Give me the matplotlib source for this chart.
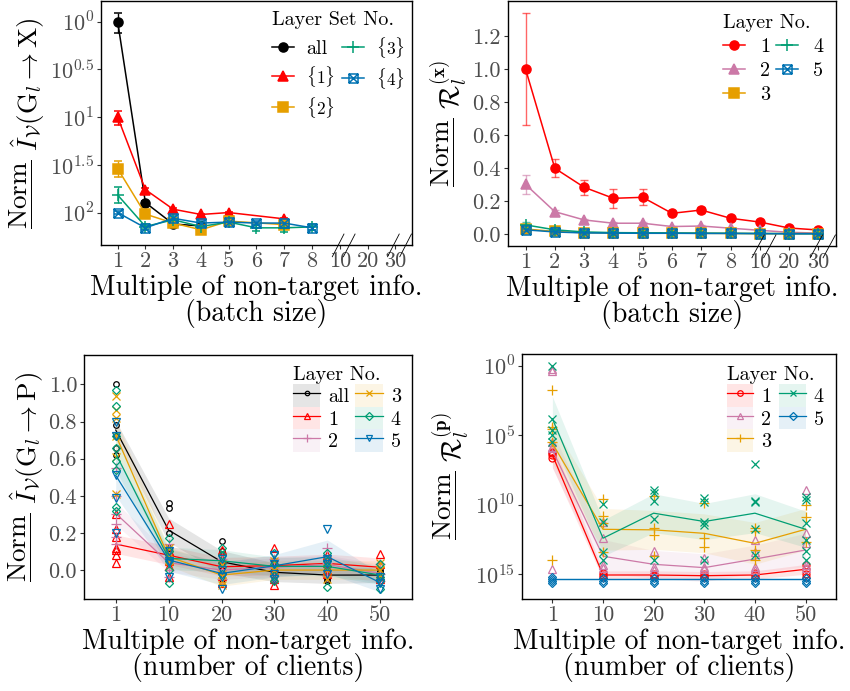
import numpy as np
import matplotlib
matplotlib.use('Agg')
import matplotlib.pyplot as plt
import matplotlib.transforms as mtransforms
from matplotlib.path import Path
from matplotlib.lines import Line2D
from matplotlib.patches import Patch

plt.rcParams['font.family'] = 'serif'
plt.rcParams['font.serif'] = ['cmr10']
plt.rcParams['mathtext.fontset'] = 'cm'
plt.rcParams['axes.formatter.use_mathtext'] = True

BLACK, RED, PINK, ORANGE, GREEN, BLUE = '#000000', '#FF0000', '#CC79A7', '#E69F00', '#009E73', '#0072B2'

# ggplot shape 7: square with a cross inside
BOX_X = Path([(-1, -1), (1, -1), (1, 1), (-1, 1), (-1, -1), (-1, -1), (1, 1), (-1, 1), (1, -1)],
             [Path.MOVETO, Path.LINETO, Path.LINETO, Path.LINETO, Path.CLOSEPOLY,
              Path.MOVETO, Path.LINETO, Path.MOVETO, Path.LINETO])

# ---------------- data ----------------
batch_labels = ['1', '2', '3', '4', '5', '6', '7', '8', '10', '20', '30']
client_labels = ['1', '10', '20', '30', '40', '50']

# top left: log10 of normalised I_V(G_l -> X)
tl_labels = ['all', r'$\{1\}$', r'$\{2\}$', r'$\{3\}$', r'$\{4\}$']
tl_x = [[1, 2, 3, 4],
        [1, 2, 3, 4, 5, 7],
        [1, 2, 3, 4, 5, 7],
        [1, 2, 3, 4, 5, 6, 7, 8],
        [1, 2, 3, 4, 5, 6, 7, 8]]
tl_log = [[0.0, -1.896, -2.12, -2.14],
          [-1.0, -1.76, -1.965, -2.02, -2.0, -2.066],
          [-1.54, -2.016, -2.11, -2.18, -2.09, -2.126],
          [-1.816, -2.146, -2.076, -2.146, -2.10, -2.16, -2.16, -2.15],
          [-2.0, -2.16, -2.06, -2.11, -2.10, -2.11, -2.11, -2.16]]
tl_err_lo = [[0.121, 0.02, 0.01, 0.01],
             [0.086, 0.02, 0.015, 0.01, 0.01, 0.01],
             [0.09, 0.02, 0.01, 0.01, 0.01, 0.01],
             [0.084, 0.03, 0.02, 0.03, 0.02, 0.03, 0.04, 0.03],
             [0.02, 0.02, 0.02, 0.02, 0.02, 0.02, 0.02, 0.02]]
tl_err_hi = [[0.094, 0.02, 0.01, 0.01],
             [0.06, 0.02, 0.015, 0.01, 0.01, 0.01],
             [0.08, 0.02, 0.01, 0.01, 0.01, 0.01],
             [0.086, 0.03, 0.02, 0.03, 0.02, 0.03, 0.04, 0.03],
             [0.02, 0.02, 0.02, 0.02, 0.02, 0.02, 0.02, 0.02]]

# top right: normalised R_l^(x)
tr_labels = ['1', '2', '3', '4', '5']
tr_y = [[1.0, 0.398, 0.283, 0.216, 0.222, 0.125, 0.145, 0.095, 0.072, 0.036, 0.024],
        [0.30, 0.135, 0.085, 0.065, 0.065, 0.045, 0.048, 0.035, 0.022, 0.010, 0.005],
        [0.030, 0.015, 0.008, 0.007, 0.006, 0.005, 0.004, 0.003, 0.002, 0.002, 0.002],
        [0.055, 0.025, 0.012, 0.008, 0.007, 0.006, 0.005, 0.004, 0.003, 0.002, 0.002],
        [0.025, 0.012, 0.006, 0.005, 0.004, 0.004, 0.003, 0.003, 0.002, 0.001, 0.001]]
tr_err = [[0.34, 0.055, 0.045, 0.058, 0.048, 0.01, 0.02, 0.01, 0.01, 0.005, 0.005],
          [0.058, 0.01, 0.008, 0.006, 0.006, 0.004, 0.004, 0.003, 0.002, 0.001, 0.001],
          [0.01, 0.004, 0.003, 0.003, 0.003, 0.002, 0.002, 0.002, 0.001, 0.001, 0.001],
          [0.02, 0.015, 0.01, 0.012, 0.012, 0.01, 0.008, 0.006, 0.005, 0.004, 0.003],
          [0.008, 0.004, 0.003, 0.003, 0.003, 0.002, 0.002, 0.002, 0.001, 0.001, 0.001]]

# bottom left: normalised I_V(G_l -> P), mean line, ribbon half width, raw points
bl_labels = ['all', '1', '2', '3', '4', '5']
bl_mean = [[0.754, 0.215, 0.045, -0.012, -0.027, -0.027],
           [0.14, 0.08, 0.018, 0.024, 0.036, 0.015],
           [0.305, 0.04, 0.0, 0.015, 0.03, -0.018],
           [0.727, 0.072, -0.027, 0.0, 0.0, 0.0],
           [0.628, 0.063, 0.05, 0.02, 0.02, -0.027],
           [0.51, 0.054, -0.018, 0.023, 0.072, -0.068]]
bl_band = [[0.05, 0.065, 0.06, 0.05, 0.045, 0.04],
           [0.05, 0.05, 0.05, 0.05, 0.05, 0.05],
           [0.06, 0.05, 0.05, 0.05, 0.05, 0.05],
           [0.09, 0.05, 0.06, 0.05, 0.05, 0.05],
           [0.09, 0.06, 0.06, 0.05, 0.05, 0.05],
           [0.11, 0.06, 0.06, 0.06, 0.09, 0.05]]
bl_pts = [[[1.0, 0.78, 0.72, 0.62, 0.66], [0.36, 0.335, 0.2, 0.12, 0.06], [0.155, 0.1, 0.04, 0.0, -0.05],
           [0.05, 0.0, -0.03, -0.06], [0.05, 0.0, -0.05, -0.06], [0.0, -0.01, -0.04, -0.06]],
          [[0.30, 0.22, 0.18, 0.12, 0.11, 0.08, 0.04], [0.25, 0.1, 0.05, 0.02, -0.04], [0.11, 0.06, 0.0, -0.03, -0.07],
           [0.12, 0.05, 0.0, -0.05, -0.08], [0.08, 0.04, 0.0, -0.02], [0.085, 0.03, -0.03, -0.05]],
          [[0.55, 0.40, 0.30, 0.25, 0.18, 0.14], [0.14, 0.06, 0.0, -0.04], [0.06, 0.0, -0.05],
           [0.06, 0.01, -0.03], [0.12, 0.04, -0.03], [0.03, -0.02, -0.06]],
          [[0.94, 0.86, 0.82, 0.72, 0.61, 0.41], [0.12, 0.09, 0.05, 0.02], [0.03, -0.02, -0.06, -0.08],
           [0.05, 0.0, -0.04], [0.05, 0.0, -0.05], [0.04, 0.0, -0.04]],
          [[0.97, 0.885, 0.72, 0.66, 0.59, 0.54, 0.34, 0.32], [0.17, 0.1, 0.05, 0.0, -0.07], [0.12, 0.08, 0.04, -0.02],
           [0.09, 0.03, -0.03, -0.06], [0.09, 0.05, 0.02, -0.09], [0.03, -0.04, -0.06, -0.1]],
          [[0.80, 0.72, 0.51, 0.39, 0.20], [0.1, 0.05, 0.04, -0.04], [0.06, 0.0, -0.04, -0.1],
           [0.08, 0.03, -0.02, -0.05], [0.22, 0.06, 0.03, -0.02], [-0.04, -0.07, -0.1]]]

# bottom right: log10 of normalised R_l^(p)
br_labels = ['1', '2', '3', '4', '5']
br_mean = [[-6.4, -15.05, -15.05, -15.1, -15.05, -14.64],
           [-6.05, -13.7, -14.28, -14.52, -13.9, -13.25],
           [-5.57, -11.76, -11.8, -12.05, -12.77, -11.76],
           [-3.8, -12.4, -10.6, -11.2, -10.6, -11.76],
           [-15.36, -15.36, -15.36, -15.36, -15.36, -15.36]]
br_band = [[0.9, 0.3, 0.3, 0.3, 0.3, 0.35],
           [1.3, 1.2, 1.0, 1.0, 1.0, 1.2],
           [1.4, 1.5, 1.4, 1.4, 1.5, 1.5],
           [1.6, 1.3, 1.4, 1.3, 1.4, 1.3],
           [0.12, 0.12, 0.12, 0.12, 0.12, 0.12]]
br_pts = [[[-6.17, -6.3, -6.4, -6.65], [-14.93, -15.05, -15.2], [-14.95, -15.05, -15.15],
           [-14.95, -15.1, -15.2], [-14.9, -15.05, -15.2], [-14.3, -14.6, -14.95, -15.2]],
          [[-0.24, -0.34, -5.5, -5.8, -5.9, -14.64], [-11.2, -12.4, -14.3, -14.57], [-13.3, -14.45, -14.7],
           [-13.85, -14.45, -14.64], [-12.5, -13.37, -14.45, -14.7], [-8.93, -12.0, -12.75, -14.3, -14.57]],
          [[-1.73, -4.4, -4.56, -5.5, -13.97], [-9.58, -10.78, -11.3, -13.37], [-9.36, -11.69, -12.17, -13.7],
           [-9.9, -12.4, -13.0], [-11.7, -11.9, -13.25, -13.97], [-10.0, -10.85, -12.7]],
          [[0.0, -3.82, -4.6, -4.97, -5.5], [-9.94, -11.2, -13.4, -13.97], [-8.93, -9.17, -9.72, -11.0, -13.97],
           [-9.53, -9.8, -11.2, -11.45, -14.0], [-7.06, -9.72, -9.8, -11.76, -13.6],
           [-9.46, -9.65, -11.33, -12.5, -13.3, -14.0]],
          [[-15.2, -15.35, -15.5, -15.65], [-15.3, -15.45, -15.6], [-15.3, -15.45, -15.6],
           [-15.3, -15.45, -15.6], [-15.3, -15.45, -15.6], [-15.3, -15.45, -15.6]]]

# ---------------- styling helpers ----------------
TICK_KW = dict(direction='out', length=3, width=0.8, color='#333333', labelcolor='#4D4D4D',
               labelsize=16, pad=2)
XLAB_KW = dict(fontsize=20, linespacing=0.9, labelpad=2)
YLAB_KW = dict(fontsize=19.5, labelpad=2)
LEG_KW = dict(ncol=2, frameon=False, fontsize=14.5, title_fontsize=14.5, loc='upper left',
              borderpad=0, borderaxespad=0, alignment='left')
NORM = r'\dfrac{\mathrm{Norm}}{\,}\ '


def style_axes(ax):
    for s in ax.spines.values():
        s.set_linewidth(1.0)
        s.set_color('black')
    ax.tick_params(**TICK_KW)
    ax.minorticks_off()


def draw_breaks(ax):
    trans = mtransforms.blended_transform_factory(ax.transData, ax.transAxes)
    for xc in [8.94, 9.34, 10.93, 11.37]:
        ax.plot([xc - 0.21, xc + 0.21], [-0.048, 0.045], color='black', lw=0.6,
                transform=trans, clip_on=False)


fig = plt.figure(figsize=(8.5, 6.91), dpi=100)
ax_tl = fig.add_axes([0.1188, 0.6454, 0.3659, 0.3531])
ax_tr = fig.add_axes([0.5976, 0.6440, 0.3859, 0.3546])
ax_bl = fig.add_axes([0.0988, 0.1331, 0.3859, 0.3531])
ax_br = fig.add_axes([0.6141, 0.1331, 0.3694, 0.3546])

# ---------------- top left ----------------
tl_style = [(BLACK, 'o', BLACK), (RED, '^', RED), (ORANGE, 's', ORANGE), (GREEN, '+', GREEN), (BLUE, BOX_X, 'none')]
handles = []
for i, (c, m, fc) in enumerate(tl_style):
    x = np.array(tl_x[i])
    ly = np.array(tl_log[i])
    y = 10 ** ly
    lo = y - 10 ** (ly - np.array(tl_err_lo[i]))
    hi = 10 ** (ly + np.array(tl_err_hi[i])) - y
    ms = 9 if m == '+' else 6.5
    ax_tl.errorbar(x, y, yerr=[lo, hi], color=c, lw=1.1, marker=m, ms=ms, mfc=fc, mec=c,
                   mew=1.1, capsize=3, elinewidth=1.0, capthick=1.0)
    handles.append(Line2D([], [], color=c, lw=1.1, marker=m, ms=ms, mfc=fc, mec=c, mew=1.1))
ax_tl.set_yscale('log')
ax_tl.set_ylim(10 ** -2.34, 10 ** 0.215)
ax_tl.set_yticks([1, 10 ** -0.5, 10 ** -1, 10 ** -1.5, 10 ** -2])
ax_tl.set_yticklabels([r'$10^{0}$', r'$10^{0.5}$', r'$10^{1}$', r'$10^{1.5}$', r'$10^{2}$'])
ax_tl.set_xlim(0.4, 11.6)
ax_tl.set_xticks(range(1, 12))
ax_tl.set_xticklabels(batch_labels)
style_axes(ax_tl)
draw_breaks(ax_tl)
ax_tl.set_xlabel('Multiple of non-target info.\n(batch size)', **XLAB_KW)
ax_tl.set_ylabel(r'$' + NORM + r'\hat{I}_{\mathcal{V}}(\mathrm{G}_l \rightarrow \mathrm{X})$', **YLAB_KW)
leg = ax_tl.legend(handles, tl_labels, title='Layer Set No.', bbox_to_anchor=(0.55, 0.96),
                   handlelength=1.1, handletextpad=0.6, columnspacing=0.35, labelspacing=0.3, **LEG_KW)
# braces from the math font run wide, shrink those labels a little
for t in leg.get_texts()[1:]:
    t.set_fontsize(12.5)

# ---------------- top right ----------------
tr_style = [(RED, 'o', RED), (PINK, '^', PINK), (ORANGE, 's', ORANGE), (GREEN, '+', GREEN), (BLUE, BOX_X, 'none')]
handles = []
xs = np.arange(1, 12)
for i, (c, m, fc) in enumerate(tr_style):
    ms = 9 if m == '+' else 6.5
    ax_tr.errorbar(xs, tr_y[i], yerr=tr_err[i], fmt='none', ecolor=c, alpha=0.6,
                   capsize=3, elinewidth=1.0, capthick=1.0)
    ax_tr.plot(xs, tr_y[i], color=c, lw=1.1, marker=m, ms=ms, mfc=fc, mec=c, mew=1.1)
    handles.append(Line2D([], [], color=c, lw=1.1, marker=m, ms=ms, mfc=fc, mec=c, mew=1.1))
ax_tr.set_ylim(-0.073, 1.412)
ax_tr.set_yticks([0.0, 0.2, 0.4, 0.6, 0.8, 1.0, 1.2])
ax_tr.set_yticklabels(['0.0', '0.2', '0.4', '0.6', '0.8', '1.0', '1.2'])
ax_tr.set_xlim(0.4, 11.6)
ax_tr.set_xticks(range(1, 12))
ax_tr.set_xticklabels(batch_labels)
style_axes(ax_tr)
draw_breaks(ax_tr)
ax_tr.set_xlabel('Multiple of non-target info.\n(batch size)', **XLAB_KW)
ax_tr.set_ylabel(r'$' + NORM + r'\mathcal{R}_l^{(\mathbf{x})}$', **YLAB_KW)
ax_tr.legend(handles, tr_labels, title='Layer No.', bbox_to_anchor=(0.655, 0.947),
             handlelength=1.1, handletextpad=0.75, columnspacing=0.3, labelspacing=0.3, **LEG_KW)

# ---------------- bottom left ----------------
bl_style = [(BLACK, 'o', 4), (RED, '^', 6), (PINK, '+', 7), (ORANGE, 'x', 5.5), (GREEN, 'D', 4.5), (BLUE, 'v', 6)]
xs = np.arange(6)
handles = []
for i, (c, m, ms) in enumerate(bl_style):
    mean = np.array(bl_mean[i])
    band = np.array(bl_band[i])
    ax_bl.fill_between(xs, mean - band, mean + band, color=c, alpha=0.1, lw=0)
    for j in range(6):
        ax_bl.plot([xs[j]] * len(bl_pts[i][j]), bl_pts[i][j], ls='none', marker=m, ms=ms,
                   mfc='none', mec=c, mew=0.9)
    ax_bl.plot(xs, mean, color=c, lw=0.9)
    handles.append((Patch(facecolor=c, alpha=0.1, lw=0),
                    Line2D([], [], color=c, lw=0.9, marker=m, ms=ms * 0.8, mfc='none', mec=c, mew=0.9)))
ax_bl.set_ylim(-0.156, 1.158)
ax_bl.set_yticks([0.0, 0.2, 0.4, 0.6, 0.8, 1.0])
ax_bl.set_yticklabels(['0.0', '0.2', '0.4', '0.6', '0.8', '1.0'])
ax_bl.set_xlim(-0.6, 5.6)
ax_bl.set_xticks(xs)
ax_bl.set_xticklabels(client_labels)
style_axes(ax_bl)
ax_bl.set_xlabel('Multiple of non-target info.\n(number of clients)', **XLAB_KW)
ax_bl.set_ylabel(r'$' + NORM + r'\hat{I}_{\mathcal{V}}(\mathrm{G}_l \rightarrow \mathrm{P})$', **YLAB_KW)
ax_bl.legend(handles, bl_labels, title='Layer No.', bbox_to_anchor=(0.637, 0.955),
             handlelength=1.35, handleheight=1.35, handletextpad=0.4, columnspacing=0.3,
             labelspacing=0.0, **LEG_KW)

# ---------------- bottom right ----------------
br_style = [(RED, 'o', 5), (PINK, '^', 6), (ORANGE, '+', 7), (GREEN, 'x', 5.5), (BLUE, 'D', 4.5)]
handles = []
for i, (c, m, ms) in enumerate(br_style):
    mean = np.array(br_mean[i])
    band = np.array(br_band[i])
    ax_br.fill_between(xs, 10 ** (mean - band), 10 ** (mean + band), color=c, alpha=0.1, lw=0)
    for j in range(6):
        ax_br.plot([xs[j]] * len(br_pts[i][j]), 10 ** np.array(br_pts[i][j]), ls='none', marker=m,
                   ms=ms, mfc='none', mec=c, mew=0.9)
    ax_br.plot(xs, 10 ** mean, color=c, lw=0.9)
    handles.append((Patch(facecolor=c, alpha=0.1, lw=0),
                    Line2D([], [], color=c, lw=0.9, marker=m, ms=ms * 0.8, mfc='none', mec=c, mew=0.9)))
ax_br.set_yscale('log')
ax_br.set_ylim(10 ** -16.78, 10 ** 0.86)
ax_br.set_yticks([1, 1e-5, 1e-10, 1e-15])
ax_br.set_yticklabels([r'$10^{0}$', r'$10^{5}$', r'$10^{10}$', r'$10^{15}$'])
ax_br.set_xlim(-0.6, 5.6)
ax_br.set_xticks(xs)
ax_br.set_xticklabels(client_labels)
style_axes(ax_br)
ax_br.set_xlabel('Multiple of non-target info.\n(number of clients)', **XLAB_KW)
ax_br.set_ylabel(r'$' + NORM + r'\mathcal{R}_l^{(\mathbf{p})}$', **YLAB_KW)
ax_br.legend(handles, br_labels, title='Layer No.', bbox_to_anchor=(0.653, 0.951),
             handlelength=1.3, handleheight=1.35, handletextpad=0.4, columnspacing=0.4,
             labelspacing=0.0, **LEG_KW)

fig.savefig('out.png', dpi=100)
